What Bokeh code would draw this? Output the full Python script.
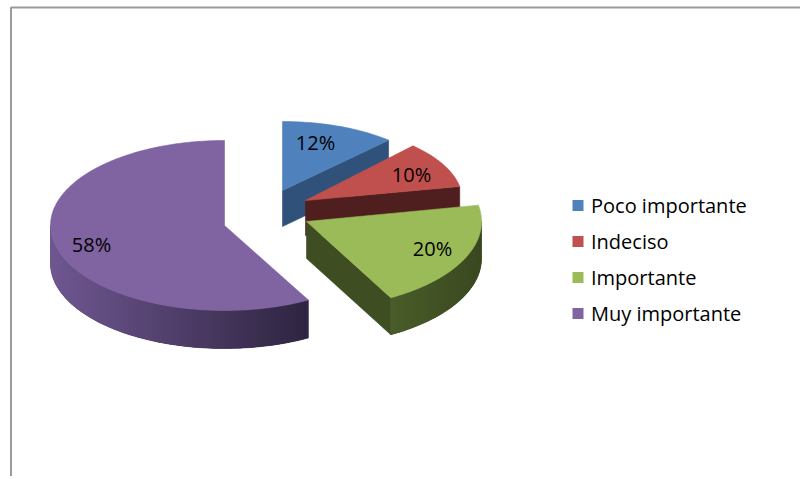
import numpy as np
from bokeh.plotting import figure
from bokeh.models import Range1d
from bokeh.core.properties import value
from bokeh.embed import file_html
from bokeh.resources import INLINE

# ---- data ----
categories = ["Poco importante", "Indeciso", "Importante", "Muy importante"]
percentages = [12, 10, 20, 58]

# ---- style / layout ----
top_colors = ["#4F81BD", "#C0504D", "#9BBB59", "#8064A2"]
face_colors = ["#30527A", "#4F1E1E", "#3E4D22", "#3A2D50"]
wall_light = ["#3A5F8C", "#5A2322", "#4A5C29", "#6F5791"]
wall_dark = ["#2A4669", "#451A19", "#3A4820", "#2E2440"]
# per-slice centre x, centre y, radius x, radius y, depth (screen px)
geom = [(282, 190, 155, 69, 36),
        (305, 200, 157, 75, 35),
        (306, 221, 175, 87, 37),
        (224, 225, 174, 85, 38)]
label_pos = [(315, 142), (411, 174), (432, 248), (91, 244)]
FONT = "Open Sans"

W, H, OFF = 800, 476, 0
p = figure(width=W, height=H, x_range=Range1d(OFF, OFF + W), y_range=Range1d(OFF + H, OFF),
           output_backend="svg", toolbar_location=None, min_border=0)
p.axis.visible = False
p.grid.visible = False
p.outline_line_color = None
p.background_fill_color = "white"

# frame of the chart area
p.line([10.5, 10.5, OFF + W], [OFF + H, 7, 7], line_color="#9a9a9a", line_width=2)


def pt(g, a, dz=0.0):
    cx, cy, rx, ry, d = g
    r = np.radians(a)
    return cx + rx * np.sin(r), cy - ry * np.cos(r) + dz


def mix(c1, c2, t):
    a = [int(c1[i:i + 2], 16) for i in (1, 3, 5)]
    b = [int(c2[i:i + 2], 16) for i in (1, 3, 5)]
    return "#%02x%02x%02x" % tuple(int(round(a[k] + (b[k] - a[k]) * t)) for k in range(3))


total = float(sum(percentages))
bounds = np.concatenate([[0], np.cumsum(percentages)]) / total * 360.0

for i in range(len(percentages)):
    a0, a1 = bounds[i], bounds[i + 1]
    g = geom[i]
    cx, cy, rx, ry, d = g
    # radial faces
    for a, vis in ((a0, np.sin(np.radians(a0)) < -1e-6), (a1, np.sin(np.radians(a1)) > 1e-6)):
        if vis:
            px, py = pt(g, a)
            p.patch([cx, px, px, cx], [cy, py, py + d, cy + d],
                    fill_color=face_colors[i], line_color=face_colors[i], line_width=0.6)
    # outer wall (front half) with a left-to-right shading
    s, e = max(a0, 90.0), min(a1, 270.0)
    if s < e:
        n = max(4, int((e - s) / 1.5))
        angs = np.linspace(s, e, n + 1)
        top = [pt(g, a) for a in angs]
        bx = [q[0] for q in top] + [q[0] for q in top[::-1]]
        by = [q[1] for q in top] + [q[1] + d for q in top[::-1]]
        mid = mix(wall_light[i], wall_dark[i], 0.5)
        p.patch(bx, by, fill_color=mid, line_color=mid, line_width=0.6)
        xa = [q[0] for q in top]
        xmin, xmax = min(xa), max(xa)
        xs_list, ys_list, cols = [], [], []
        for k in range(n):
            k2 = min(k + 2, n)
            seg = top[k:k2 + 1]
            x_mid = (top[k][0] + top[k + 1][0]) / 2
            t = (x_mid - xmin) / max(xmax - xmin, 1)
            xs_list.append([q[0] for q in seg] + [q[0] for q in seg[::-1]])
            ys_list.append([q[1] for q in seg] + [q[1] + d for q in seg[::-1]])
            cols.append(mix(wall_light[i], wall_dark[i], t))
        p.patches(xs_list, ys_list, fill_color=cols, line_color=None)
    # top face
    angs = np.linspace(a0, a1, max(8, int((a1 - a0) / 1.0)))
    tx = [cx] + [pt(g, a)[0] for a in angs]
    ty = [cy] + [pt(g, a)[1] for a in angs]
    p.patch(tx, ty, fill_color=top_colors[i], line_color=top_colors[i], line_width=0.6)

# data labels
p.text(x=[lp[0] for lp in label_pos], y=[lp[1] for lp in label_pos],
       text=["%d%%" % v for v in percentages], text_font=value(FONT), text_font_size="20px",
       text_color="#000000", text_align="center", text_baseline="middle")

# legend
LX, LY0, LDY, SQ = 577.5, 205, 36, 11
ly = [LY0 + k * LDY for k in range(len(categories))]
p.rect(x=[LX] * len(categories), y=ly, width=SQ, height=SQ, fill_color=top_colors, line_color=None)
p.text(x=[LX + 13] * len(categories), y=ly, text=categories, text_font=value(FONT),
       text_font_size="20px", text_color="#000000", text_align="left", text_baseline="middle")

open("out.html", "w").write(file_html(p, INLINE))
